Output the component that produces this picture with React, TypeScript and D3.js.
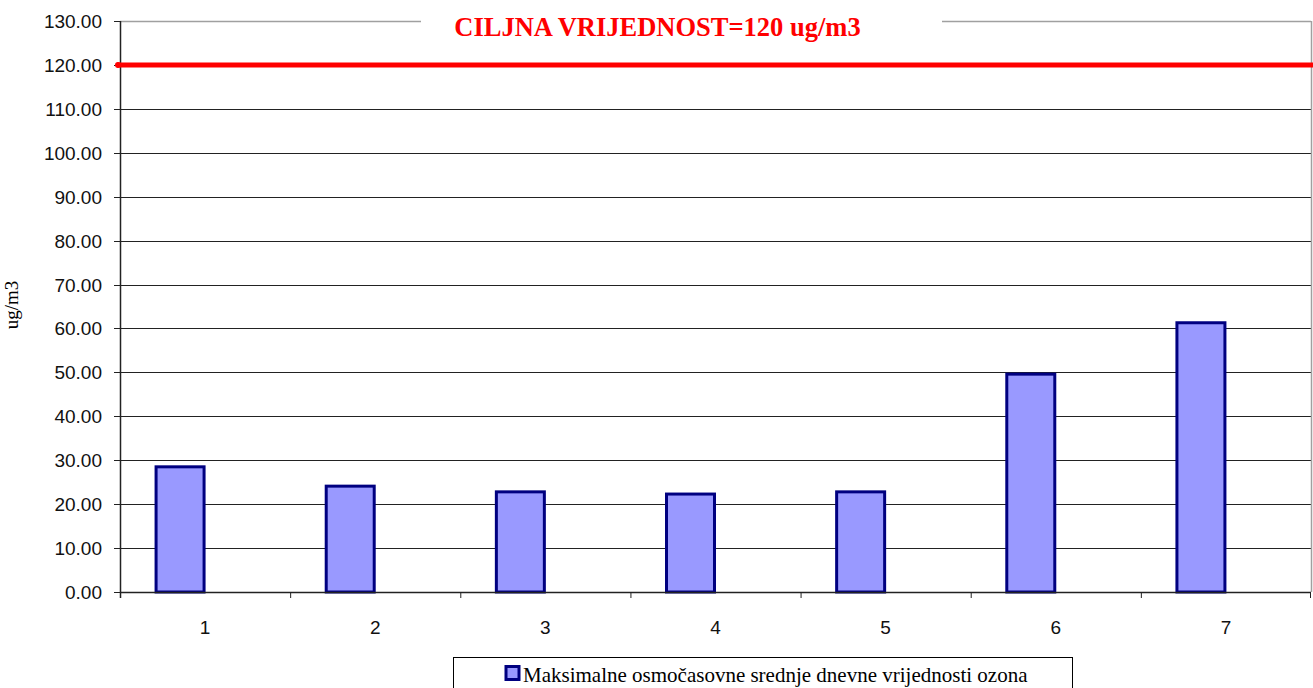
import React from "react";
import * as d3 from "d3";

const categories = ["1", "2", "3", "4", "5", "6", "7"];
const values = [28.5, 24.1, 22.8, 22.3, 22.8, 49.6, 61.3];
const yTicks = [0, 10, 20, 30, 40, 50, 60, 70, 80, 90, 100, 110, 120, 130];
const targetValue = 120;
const titleText = "CILJNA VRIJEDNOST=120 ug/m3";
const legendText = "Maksimalne osmočasovne srednje dnevne vrijednosti ozona";
const yTitle = "ug/m3";

export default function App() {
  const W = 1313, H = 688;
  const left = 120, right = 1311, top = 21, bottom = 592;
  const y = d3.scaleLinear().domain([0, 130]).range([bottom, top]);
  const x = d3.scaleBand().domain(categories).range([left, right]).padding(0);
  const bw = x.bandwidth();
  const barW = 50;
  const sans = "'Liberation Sans', Arial, sans-serif";
  const serif = "'Liberation Serif', 'Times New Roman', serif";
  return (
    <svg width={W} height={H} style={{ position: "absolute", left: 0, top: 0, background: "#fff" }}>
      {/* gridlines */}
      {yTicks.map((t) => {
        if (t === 0) return null;
        const yy = Math.round(y(t)) + 0.5;
        if (t === 130) {
          return (
            <g key={t}>
              <line x1={left} x2={421} y1={yy} y2={yy} stroke="#a0a0a0" strokeWidth={1.5} />
              <line x1={942} x2={right} y1={yy} y2={yy} stroke="#a0a0a0" strokeWidth={1.5} />
            </g>
          );
        }
        return <line key={t} x1={left} x2={right} y1={yy} y2={yy} stroke="#222" strokeWidth={1} />;
      })}
      {/* right border */}
      <line x1={right + 0.5} x2={right + 0.5} y1={top} y2={bottom} stroke="#a0a0a0" strokeWidth={1.5} />
      {/* bars */}
      {values.map((v, i) => {
        const cx = (x(categories[i]) as number) + bw / 2;
        return (
          <rect
            key={i}
            x={cx - barW + 1}
            y={y(v)}
            width={barW - 2}
            height={bottom - y(v)}
            fill="#9999FF"
            stroke="#000080"
            strokeWidth={3}
          />
        );
      })}
      {/* axes */}
      <line x1={left + 0.5} x2={left + 0.5} y1={top} y2={bottom + 6} stroke="#222" strokeWidth={1.5} />
      <line x1={left} x2={right} y1={bottom + 0.5} y2={bottom + 0.5} stroke="#222" strokeWidth={1.5} />
      {yTicks.map((t) => (
        <g key={"yt" + t}>
          <line x1={left - 6} x2={left} y1={Math.round(y(t)) + 0.5} y2={Math.round(y(t)) + 0.5} stroke="#222" strokeWidth={1} />
          <text x={102} y={y(t) + 7} textAnchor="end" fontFamily={sans} fontSize={19} fill="#111">
            {d3.format(".2f")(t)}
          </text>
        </g>
      ))}
      {categories.map((c, i) => (
        <line key={"xt" + i} x1={(x(c) as number) + 0.5} x2={(x(c) as number) + 0.5} y1={bottom} y2={bottom + 6} stroke="#222" strokeWidth={1} />
      ))}
      <line x1={right - 0.5} x2={right - 0.5} y1={bottom} y2={bottom + 6} stroke="#222" strokeWidth={1} />
      {categories.map((c) => (
        <text key={"xl" + c} x={(x(c) as number) + bw / 2} y={634} textAnchor="middle" fontFamily={sans} fontSize={19} fill="#111">
          {c}
        </text>
      ))}
      {/* target line */}
      <line x1={117} x2={W} y1={y(targetValue)} y2={y(targetValue)} stroke="#ff0000" strokeWidth={5} />
      <circle cx={118} cy={y(targetValue)} r={3} fill="#ff0000" />
      {/* title */}
      <text x={657.5} y={35.5} textAnchor="middle" fontFamily={serif} fontWeight="bold" fontSize={26.5} fill="#ff0000">
        {titleText}
      </text>
      {/* y axis title */}
      <text transform={`translate(18, 305) rotate(-90)`} textAnchor="middle" fontFamily={serif} fontSize={19} fill="#000">
        {yTitle}
      </text>
      {/* legend */}
      <rect x={453.5} y={657.5} width={619} height={40} fill="#fff" stroke="#000" strokeWidth={1} />
      <rect x={506} y={666.5} width={13} height={13} fill="#9999FF" stroke="#000080" strokeWidth={3} />
      <text x={523} y={681.5} fontFamily={serif} fontSize={21} fill="#000">
        {legendText}
      </text>
    </svg>
  );
}
